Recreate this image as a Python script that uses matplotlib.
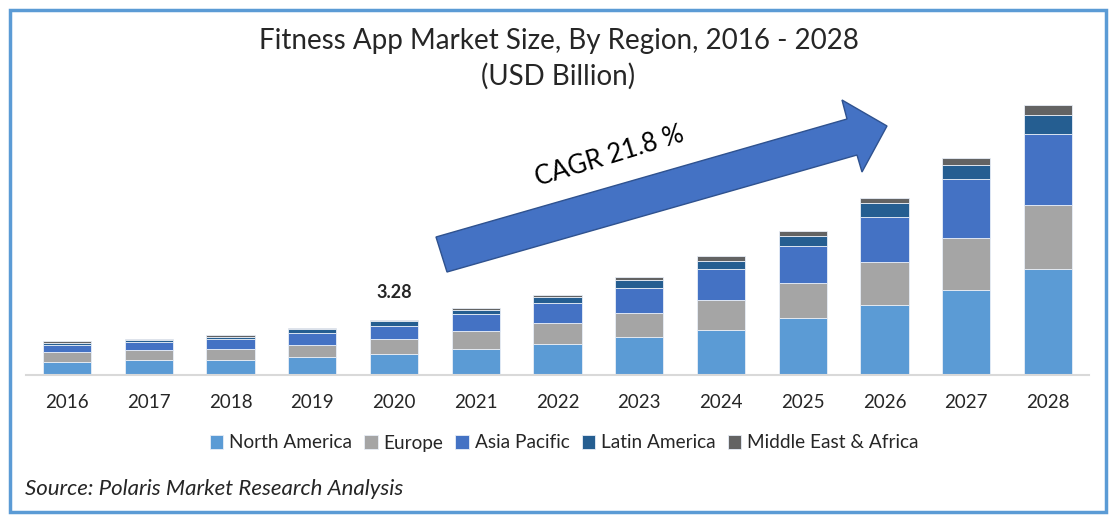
import matplotlib.pyplot as plt
import numpy as np
from matplotlib.patches import Polygon, Rectangle

plt.rcParams['font.family'] = ['Lato', 'DejaVu Sans']

# ---------------------------
# data (USD Billion)
# ---------------------------
years = ["2016", "2017", "2018", "2019", "2020", "2021", "2022",
         "2023", "2024", "2025", "2026", "2027", "2028"]
north_america = [0.75, 0.85, 0.85, 1.05, 1.25, 1.53, 1.81, 2.21, 2.68, 3.38, 4.17, 5.04, 6.32]
europe        = [0.58, 0.60, 0.66, 0.73, 0.85, 1.07, 1.27, 1.47, 1.75, 2.05, 2.54, 3.10, 3.77]
asia_pacific  = [0.42, 0.48, 0.58, 0.67, 0.78, 1.00, 1.16, 1.45, 1.85, 2.24, 2.71, 3.50, 4.28]
latin_america = [0.15, 0.10, 0.16, 0.24, 0.31, 0.26, 0.39, 0.49, 0.49, 0.58, 0.78, 0.88, 1.09]
mea           = [0.11, 0.10, 0.08, 0.08, 0.09, 0.12, 0.10, 0.18, 0.32, 0.30, 0.30, 0.42, 0.60]

series = [
    ("North America", north_america, "#5B9BD5"),
    ("Europe", europe, "#A5A5A5"),
    ("Asia Pacific", asia_pacific, "#4472C4"),
    ("Latin America", latin_america, "#255E91"),
    ("Middle East & Africa", mea, "#636363"),
]
label_year = "2020"
label_text = "3.28"
cagr_text = "CAGR 21.8 %"

W, H = 1116, 522
fig = plt.figure(figsize=(W / 100, H / 100), dpi=100)

def fx(px):
    return px / W

def fy(py):
    return 1 - py / H

ax = fig.add_axes([fx(26), fy(374.5), fx(1089) - fx(26), fy(95) - fy(374.5)])

x = np.arange(len(years))
bottom = np.zeros(len(years))
for name, vals, col in series:
    ax.bar(x, vals, 0.59, bottom=bottom, color=col, label=name,
           edgecolor="#E8EEF7", linewidth=0.6)
    bottom += np.array(vals)

ax.set_xlim(-0.5, len(years) - 0.5)
ax.set_ylim(0, 16.67)
ax.set_xticks(x)
ax.set_xticklabels(years, fontsize=13.5, color="#262626")
ax.tick_params(axis="x", length=0, pad=14)
ax.set_yticks([])
for s in ["top", "right", "left"]:
    ax.spines[s].set_visible(False)
ax.spines["bottom"].set_color("#D9D9D9")
ax.spines["bottom"].set_linewidth(1.5)

# value label on 2020
i20 = years.index(label_year)
ax.text(i20, bottom[i20] + 1.6, label_text, ha="center", va="center",
        fontsize=13, fontweight="bold", color="#262626")

# legend
handles, labels = ax.get_legend_handles_labels()
fig.legend(handles, labels, loc="center", bbox_to_anchor=(fx(564), fy(443)),
           ncol=5, frameon=False, fontsize=13.7, handlelength=0.7, handleheight=0.7,
           handletextpad=0.3, columnspacing=0.65, labelcolor="#262626")

# titles
fig.text(fx(559), fy(41), "Fitness App Market Size, By Region, 2016 - 2028",
         ha="center", va="center", fontsize=20, color="#262626")
fig.text(fx(558), fy(76), "(USD Billion)", ha="center", va="center",
         fontsize=20, color="#262626")

# CAGR arrow
arrow_px = [(436, 237), (847, 119), (842, 100), (887, 126),
            (862, 172), (857, 155), (447, 272)]
arrow = Polygon([(fx(a), fy(b)) for a, b in arrow_px], closed=True,
                transform=fig.transFigure, facecolor="#4472C4",
                edgecolor="#2F528F", linewidth=1)
fig.patches.append(arrow)
fig.text(fx(610), fy(156), cagr_text, ha="center", va="center",
         rotation=17, fontsize=18.5, color="black")

# source
fig.text(fx(25), fy(489), "Source: Polaris Market Research Analysis",
         ha="left", va="center", fontsize=16, style="italic", color="#262626")

# outer frame
frame = Rectangle((fx(10), fy(512)), fx(1106) - fx(10), fy(10) - fy(512),
                  transform=fig.transFigure, fill=False,
                  edgecolor="#5B9BD5", linewidth=2.5)
fig.patches.append(frame)

fig.savefig("out.png", dpi=100)
